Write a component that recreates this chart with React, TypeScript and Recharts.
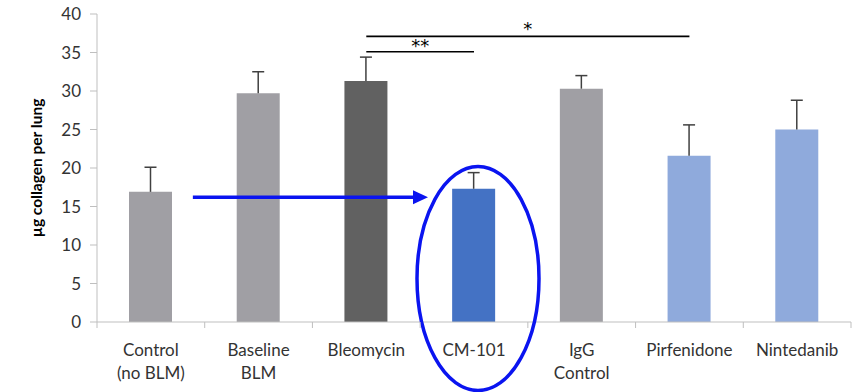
import { BarChart, Bar, XAxis, YAxis, Cell, ReferenceLine, ReferenceDot } from "recharts";

const groups = ["Control (no BLM)", "Baseline BLM", "Bleomycin", "CM-101", "IgG Control", "Pirfenidone", "Nintedanib"];
const labelLines = [["Control", "(no BLM)"], ["Baseline", "BLM"], ["Bleomycin"], ["CM-101"], ["IgG", "Control"], ["Pirfenidone"], ["Nintedanib"]];
const collagen = [16.9, 29.7, 31.3, 17.3, 30.3, 21.6, 25.0];
const errorUp = [3.2, 2.8, 3.1, 2.1, 1.7, 4.0, 3.8];
const barColors = ["#a09fa4", "#a09fa4", "#616161", "#4472c4", "#a09fa4", "#8faadc", "#8faadc"];
const yTicks = [0, 5, 10, 15, 20, 25, 30, 35, 40];

const data = groups.map((g, i) => ({
  group: g,
  value: collagen[i],
  err: errorUp[i],
}));

const FONT = "Lato, 'Open Sans', sans-serif";
const BLUE = "#0a14f0";

function XTick(props: any) {
  const { x, y, payload, index } = props;
  const half = payload.offset || 54;
  const lines = labelLines[index] || [String(payload.value)];
  return (
    <g>
      <line x1={x - half} y1={y - 8} x2={x - half} y2={y - 2} stroke="#bfbfbf" />
      {index === groups.length - 1 && (
        <line x1={x + half} y1={y - 8} x2={x + half} y2={y - 2} stroke="#bfbfbf" />
      )}
      <text x={x} y={y + 26} textAnchor="middle" fontSize={17} fill="#333" fontFamily={FONT}>
        {lines.map((l: string, i: number) => (
          <tspan key={i} x={x} dy={i === 0 ? 0 : 23}>
            {l}
          </tspan>
        ))}
      </text>
    </g>
  );
}

// upper whisker only, drawn as a stacked transparent bar
function Whisker(props: any) {
  const { x, y, width, height } = props;
  const cx = x + width / 2;
  return (
    <g stroke="#404040" strokeWidth={1.5}>
      <line x1={cx} y1={y} x2={cx} y2={y + height} />
      <line x1={cx - 6} y1={y} x2={cx + 6} y2={y} />
    </g>
  );
}

function Arrow(props: any) {
  const { x1, y1, x2 } = props;
  const start = x1 + 42;
  const tip = x2 - 46;
  return (
    <g>
      <line x1={start} y1={y1} x2={tip - 12} y2={y1} stroke={BLUE} strokeWidth={3.5} />
      <path d={`M${tip},${y1} L${tip - 15},${y1 - 7} L${tip - 15},${y1 + 7} Z`} fill={BLUE} />
    </g>
  );
}

function Ring(props: any) {
  const { cx, cy } = props;
  return <ellipse cx={cx + 4} cy={cy} rx={61} ry={112} fill="none" stroke={BLUE} strokeWidth={3.5} />;
}

const starStyle = { fontSize: 18, fill: "#000", stroke: "none", fontFamily: "'DejaVu Sans', sans-serif" };

export default function App() {
  return (
    <div style={{ position: "absolute", left: 0, top: 0, background: "#fff" }}>
      <BarChart
        width={866}
        height={392}
        data={data}
        margin={{ top: 14, right: 15, bottom: 0, left: 0 }}
        barCategoryGap={0}
      >
        <XAxis
          dataKey="group"
          interval={0}
          tickLine={false}
          stroke="#bfbfbf"
          height={70}
          tick={<XTick />}
        />
        <YAxis
          width={97}
          domain={[0, 40]}
          ticks={yTicks}
          tickSize={7}
          tickMargin={9}
          stroke="#bfbfbf"
          tick={{ fill: "#333", fontSize: 17, fontFamily: FONT }}
          label={{
            value: "µg collagen per lung",
            angle: -90,
            position: "center",
            dx: -12,
            style: { fontSize: 15.5, fontWeight: 700, fill: "#000", fontFamily: FONT },
          }}
        />
        <Bar dataKey="value" stackId="a" barSize={43} isAnimationActive={false}>
          {data.map((d, i) => (
            <Cell key={d.group} fill={barColors[i]} />
          ))}
        </Bar>
        <Bar dataKey="err" stackId="a" barSize={43} shape={<Whisker />} isAnimationActive={false} />
        <ReferenceLine
          segment={[{ x: "Bleomycin", y: 35.1 }, { x: "CM-101", y: 35.1 }]}
          stroke="#000"
          strokeWidth={1.6}
          label={{ value: "**", position: "top", offset: 0, style: starStyle }}
        />
        <ReferenceLine
          segment={[{ x: "Bleomycin", y: 37.1 }, { x: "Pirfenidone", y: 37.1 }]}
          stroke="#000"
          strokeWidth={1.6}
          label={{ value: "*", position: "top", offset: 1, style: starStyle }}
        />
        <ReferenceLine
          segment={[{ x: "Control (no BLM)", y: 16.2 }, { x: "CM-101", y: 16.2 }]}
          shape={<Arrow />}
        />
        <ReferenceDot x="CM-101" y={5.65} shape={<Ring />} ifOverflow="visible" />
      </BarChart>
    </div>
  );
}
